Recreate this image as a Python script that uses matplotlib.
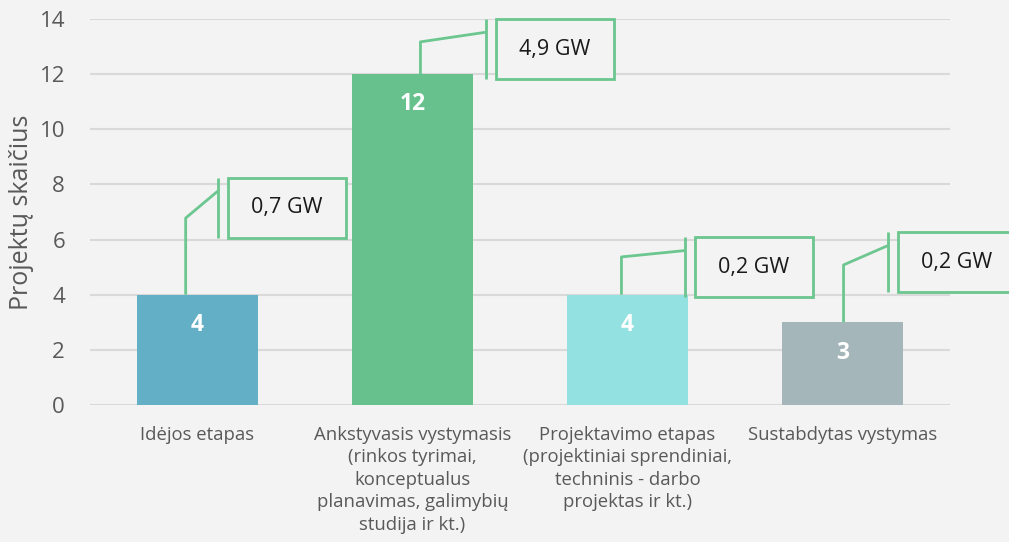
import matplotlib
matplotlib.use("Agg")
from matplotlib import pyplot as plt
from matplotlib.patches import Rectangle
import numpy as np

categories = [
    "Idėjos etapas",
    "Ankstyvasis vystymasis\n(rinkos tyrimai,\nkonceptualus\nplanavimas, galimybių\nstudija ir kt.)",
    "Projektavimo etapas\n(projektiniai sprendiniai,\ntechninis - darbo\nprojektas ir kt.)",
    "Sustabdytas vystymas",
]
project_counts = [4, 12, 4, 3]
capacity_labels = ["0,7 GW", "4,9 GW", "0,2 GW", "0,2 GW"]

bar_colors = ["#62afc6", "#67c18c", "#93e1e1", "#a4b6b9"]
line_green = "#6cc68f"
bg = "#f3f3f3"

# callout layout (data units relative to each bar): leader x, elbow y, box left, box bottom
leader_dx = [-0.055, 0.037, -0.028, 0.005]
elbow_y = [6.78, 13.17, 5.37, 5.08]
box_dx = [0.14, 0.387, 0.312, 0.256]
box_y = [6.06, 11.82, 3.9, 4.08]
box_w, box_h = 0.55, 2.18

plt.rcParams["font.family"] = ["Open Sans", "DejaVu Sans"]

fig = plt.figure(figsize=(10.09, 5.42), dpi=100, facecolor=bg)
ax = fig.add_axes([0.0892, 0.2528, 0.8523, 0.7122])
ax.set_facecolor(bg)

x = np.arange(len(categories))
ax.bar(x, project_counts, width=0.56, color=bar_colors, zorder=2)

for i, v in enumerate(project_counts):
    ax.text(i, v - 1.1, str(v), ha="center", va="center", color="white",
            fontsize=16.5, fontweight="bold", zorder=3)

    lx = i + leader_dx[i]
    bx = i + box_dx[i]
    tick_x = bx - 0.045
    diag_y = box_y[i] + box_h * 0.78
    ax.plot([lx, lx, tick_x], [v, elbow_y[i], diag_y], color=line_green,
            lw=2, clip_on=False, zorder=4, solid_capstyle="butt")
    ax.plot([tick_x, tick_x], [box_y[i], box_y[i] + box_h], color=line_green,
            lw=2, clip_on=False, zorder=4, solid_capstyle="butt")
    ax.add_patch(Rectangle((bx, box_y[i]), box_w, box_h, facecolor=bg,
                           edgecolor=line_green, lw=2, clip_on=False, zorder=4))
    ax.text(bx + box_w / 2, box_y[i] + box_h / 2, capacity_labels[i],
            ha="center", va="center", fontsize=15.5, color="#1a1a1a", zorder=5)

ax.set_xlim(-0.5, 3.5)
ax.set_ylim(0, 14)
ax.set_yticks(np.arange(0, 15, 2))
ax.yaxis.grid(True, color="#d9d9d9", lw=1.5, zorder=0)
ax.set_axisbelow(True)
for s in ax.spines.values():
    s.set_visible(False)

ax.set_xticks(x)
ax.set_xticklabels(categories, fontsize=13.3, color="#595959",
                   linespacing=1.32, va="top")
ax.tick_params(axis="x", length=0, pad=15)
ax.tick_params(axis="y", length=0, pad=18, labelsize=16, labelcolor="#595959")
ax.set_ylabel("Projektų skaičius", fontsize=18, color="#595959", labelpad=4)

fig.savefig("out.png", dpi=100, facecolor=bg)
